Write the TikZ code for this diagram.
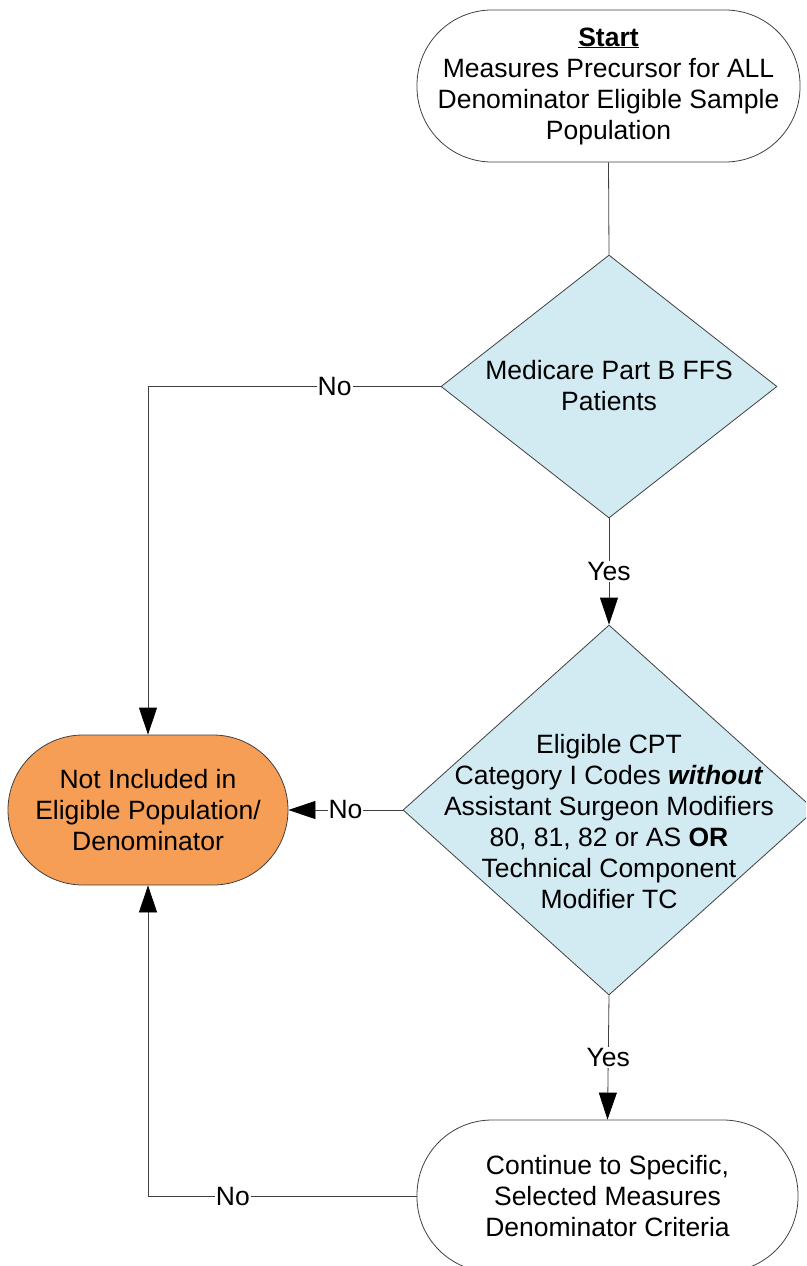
\documentclass[tikz,border=0pt]{standalone}
\usepackage{fontspec}
\setmainfont{Liberation Sans}
\usetikzlibrary{shapes.geometric,arrows.meta}
\definecolor{dblue}{RGB}{210,234,242}
\definecolor{torange}{RGB}{246,157,86}
\begin{document}
\begin{tikzpicture}[x=1pt,y=-1pt,
  every node/.style={font=\fontsize{26.5}{31}\selectfont},
  term/.style={draw=black!75, line width=0.8pt, rectangle, rounded corners=75pt,
    minimum width=383pt, minimum height=152pt, align=center, inner sep=0pt},
  dec/.style={draw=black!75, line width=0.8pt, diamond, fill=dblue, inner sep=0pt},
  txt/.style={align=center, inner sep=0pt},
  conn/.style={draw=black!75, line width=0.8pt},
  arr/.style={conn, -{Triangle[length=27pt,width=18pt,color=black]}},
  lbl/.style={fill=white, inner sep=1pt}
]
\useasboundingbox (0,0) rectangle (806,1266);
\clip (0,0) rectangle (806,1266);

\node[term] (start) at (608.5,86) {\underline{\textbf{Start}}\\Measures Precursor for ALL\\Denominator Eligible Sample\\Population};

\node[dec, minimum width=336pt, minimum height=263pt] (d1) at (609,386.5) {};
\node[txt] (t1) at (609,386) {Medicare Part B FFS\\Patients};

\node[dec, minimum width=412pt, minimum height=370pt] (d2) at (609,810) {};
\node[txt] (t2) at (609,822) {Eligible CPT\\Category I Codes \textbf{\textit{without}}\\Assistant Surgeon Modifiers\\80, 81, 82 or AS \textbf{OR}\\Technical Component\\Modifier TC};

\node[term, fill=torange, minimum width=280pt, minimum height=150pt] (out) at (148,810) {Not Included in\\Eligible Population/\\Denominator};

\node[term, minimum width=381pt] (bot) at (607.5,1196) {Continue to Specific,\\Selected Measures\\Denominator Criteria};

\draw[conn] (start.south) -- (d1.north);
\draw[arr] (d1.west) -| node[lbl,pos=0.181]{No} (out.north);
\draw[arr] (d1.south) -- node[lbl]{Yes} (d2.north);
\draw[arr] (d2.west) -- node[lbl]{No} (out.east);
\draw[arr] (d2.south) -- node[lbl]{Yes} (bot.north);
\draw[arr] (bot.west) -| node[lbl,pos=0.342]{No} (out.south);
\end{tikzpicture}
\end{document}
